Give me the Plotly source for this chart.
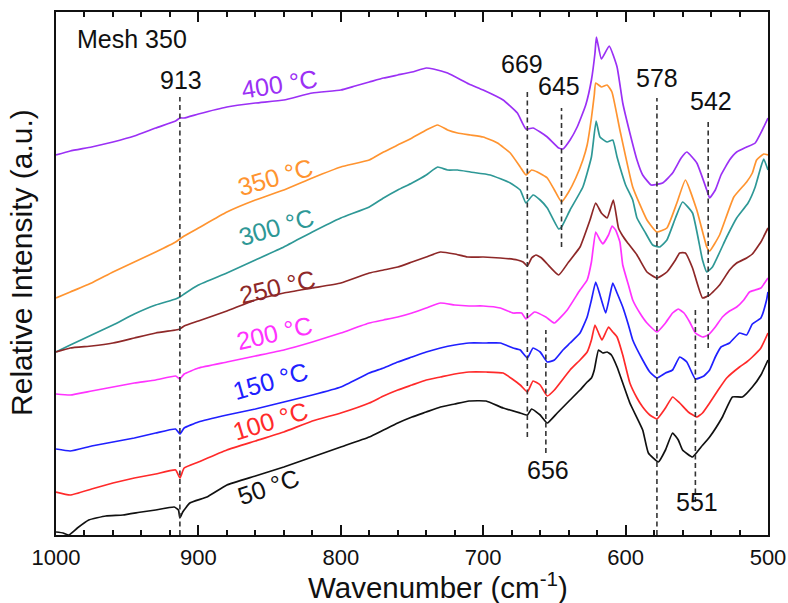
import plotly.graph_objects as go

# ---------------- data (wavenumber in cm-1, relative intensity in a.u.) ----------------
wn_400 = [1000, 990, 975, 960, 945, 930, 916, 913, 910, 900, 880, 860, 840, 820, 800, 790, 780, 770, 760, 750,
          740, 735, 725, 710, 700, 686, 676, 670, 665, 660, 655, 647, 644, 639, 634, 628, 624, 621.5, 620.5, 617,
          611.5, 606, 602, 597, 592, 588, 582, 574, 567, 561, 557, 550, 543, 541, 537, 533, 527, 522, 515, 509,
          504, 500]
int_400 = [380, 384, 388, 393, 399, 407, 414, 417, 417, 421, 428, 432, 435, 442, 445, 449, 453, 457, 460, 463,
           467, 466, 462, 451, 445, 435, 422, 406, 407, 403, 398, 387, 386, 395, 408, 430, 455, 482, 498, 476,
           489, 468, 432, 402, 375, 360, 350, 352, 362, 377, 383, 372, 345, 337, 345, 360, 375, 383, 388, 392,
           405, 417]

wn_350 = [1000, 990, 975, 960, 945, 930, 916, 913, 910, 900, 880, 860, 840, 820, 800, 780, 770, 760, 750, 740,
          732, 725, 718, 709, 700, 690, 681, 674, 670, 666, 662, 655, 650, 645, 640, 635, 630, 627, 624, 622,
          621, 617, 613, 609.6, 604, 595, 585, 578, 571, 564, 558, 550, 543, 541, 534, 524, 515, 511, 508, 503,
          500]
int_350 = [237, 243, 252, 263, 273, 283, 293, 296, 299, 307, 323, 335, 345, 357, 368, 375, 383, 390, 397, 405,
           410, 405, 402, 400, 398, 392, 382, 368, 360, 365, 363, 357, 345, 333, 343, 357, 375, 390, 417, 440,
           452, 448, 450, 443, 405, 348, 315, 303, 307, 332, 355, 325, 288, 284, 300, 338, 353, 362, 375, 381,
           380]

wn_300 = [1000, 990, 975, 960, 945, 930, 916, 913, 910, 900, 880, 860, 840, 820, 800, 780, 770, 760, 750, 740,
          732, 725, 718, 709, 695, 681, 674, 670, 665, 660, 655, 647, 645, 639, 630, 624, 620.7, 618, 613, 609,
          606, 604, 600, 595, 592, 586, 581, 576, 571, 565, 560, 553, 546, 543, 539, 529, 522, 514, 509, 505,
          503, 500]
int_300 = [183, 190, 200, 210, 221, 230, 236, 238, 241, 250, 262, 275, 288, 303, 317, 328, 337, 345, 352, 360,
           368, 365, 365, 363, 360, 352, 345, 332, 340, 335, 327, 306, 308, 325, 348, 378, 414, 398, 393, 395,
           378, 368, 350, 335, 317, 302, 290, 288, 295, 317, 333, 322, 275, 263, 268, 298, 317, 332, 348, 368,
           376, 365]

wn_250 = [1000, 990, 975, 960, 945, 930, 916, 913, 910, 900, 880, 860, 840, 820, 800, 780, 770, 760, 750, 740,
          730, 720, 711, 700, 688, 676, 672, 669, 666, 663, 659, 655, 647, 640, 632, 625, 621, 617, 613, 608.6,
          605, 602, 599, 592, 585, 578, 571, 565, 562, 558, 553, 546, 541, 534, 527, 522, 515, 511, 505, 500]
int_250 = [183, 187, 189, 192, 197, 202, 205, 206, 209, 214, 224, 235, 242, 247, 252, 262, 265, 268, 273, 278,
           283, 281, 278, 278, 277, 275, 273, 269, 277, 280, 277, 271, 260, 273, 288, 315, 332, 322, 317, 335,
           307, 299, 293, 280, 263, 257, 263, 275, 282, 282, 267, 237, 240, 250, 265, 272, 277, 281, 293, 307]

wn_200 = [1000, 990, 975, 960, 945, 930, 916, 913, 910, 900, 880, 860, 840, 820, 800, 780, 770, 760, 750, 740,
          730, 720, 710, 700, 688, 679, 673, 670, 664, 656, 650, 641, 632, 627, 624, 621, 618, 616, 612, 609.5,
          607, 604, 602, 598, 595, 590, 585, 578, 572, 567, 563, 559, 555, 551, 546, 542, 537, 532, 527, 522,
          517, 513, 509, 505, 500]
int_200 = [141, 140, 144, 148, 152, 155, 159, 156, 161, 167, 173, 179, 185, 193, 202, 212, 215, 218, 222, 227,
           232, 230, 229, 229, 227, 222, 222, 216, 223, 218, 212, 225, 245, 255, 273, 303, 295, 291, 300, 309,
           305, 293, 270, 250, 235, 222, 212, 203, 212, 222, 226, 222, 213, 202, 198, 200, 208, 218, 224, 228,
           235, 243, 245, 247, 257]

wn_150 = [1000, 990, 975, 960, 945, 930, 916, 913, 910, 900, 880, 860, 840, 820, 800, 780, 770, 760, 750, 740,
          730, 720, 710, 698, 688, 679, 674, 669, 665, 660, 655, 650, 644, 639, 632, 627, 624, 621, 618, 614,
          611, 609, 606, 602, 598, 595, 588, 583, 578, 572, 567, 562, 557, 551, 545, 541, 537, 533, 527, 520,
          515, 511, 505, 501, 500]
int_150 = [86, 84, 89, 93, 97, 102, 106, 101, 107, 113, 120, 126, 133, 140, 148, 162, 167, 173, 178, 183,
           187, 190, 192, 192, 192, 187, 185, 177, 187, 183, 173, 175, 185, 192, 202, 218, 235, 253, 240, 222,
           240, 252, 242, 228, 210, 195, 175, 163, 157, 162, 165, 178, 173, 156, 159, 165, 178, 188, 192, 202,
           200, 211, 217, 235, 243]

wn_100 = [1000, 990, 975, 960, 945, 930, 916, 913, 910, 900, 880, 860, 840, 820, 800, 780, 770, 760, 750, 740,
          730, 720, 710, 698, 686, 674, 669, 665, 660, 655, 650, 639, 632, 627, 624, 621.5, 619, 616.6, 612, 609,
          606, 602, 597, 592, 588, 583, 578, 572, 567, 562, 556, 550, 546, 541, 535, 529, 520, 515, 511, 505,
          500]
int_100 = [43, 40, 46, 52, 57, 61, 65, 57, 67, 73, 85, 94, 103, 114, 122, 132, 139, 145, 150, 155,
           158, 161, 163, 163, 162, 150, 143, 154, 150, 139, 145, 165, 175, 183, 195, 210, 202, 195, 208, 203,
           198, 180, 152, 137, 128, 120, 116, 127, 138, 132, 123, 118, 122, 132, 145, 157, 168, 173, 178, 187,
           202]

wn_50 = [1000, 995, 991, 985, 977, 965, 953, 940, 930, 917, 914, 913, 911, 906, 894, 880, 860, 840, 820, 800,
         780, 770, 760, 750, 740, 730, 720, 710, 698, 686, 674, 669, 666, 660, 655, 648, 639, 632, 627, 624,
         622, 619, 616, 613, 610, 606, 597, 588, 584, 577, 572, 567, 563, 560, 553, 547, 541, 532, 525, 518,
         511, 505, 500]
int_50 = [3, 2, 0, 7, 15, 19, 20, 23, 25, 28, 25, 17, 23, 32, 38, 50, 59, 68, 78, 88,
          98, 105, 112, 118, 123, 128, 131, 134, 134, 127, 122, 120, 126, 120, 112, 122, 135, 145, 153, 157,
          165, 185, 182, 183, 180, 168, 132, 105, 82, 73, 85, 102, 95, 85, 78, 88, 98, 118, 138, 138,
          148, 160, 175]

temps = ["400 °C", "350 °C", "300 °C", "250 °C", "200 °C", "150 °C", "100 °C", "50 °C"]
colors = ["#9B30F5", "#FF9430", "#2E9896", "#8E2828", "#FF33FF", "#2020FF", "#FF2A2A", "#111111"]
wns = [wn_400, wn_350, wn_300, wn_250, wn_200, wn_150, wn_100, wn_50]
ints = [int_400, int_350, int_300, int_250, int_200, int_150, int_100, int_50]

# temperature label placement (wavenumber, intensity, rotation)
temp_label_wn = [843.4, 846.2, 845.5, 844.8, 846.9, 849.7, 849.7, 851.1]
temp_label_int = [451, 358, 308, 248, 202, 154, 114, 48]
temp_label_angle = [-9, -16, -16, -13, -13, -16, -17, -19]

# band markers (dashed guide lines) and their labels
band_wn = [913, 669, 645, 578, 542, 656, 551]
band_top = [438, 445, 427, 437, 415, 205, 227]
band_bottom = [0, 98, 288, 0, 187, 82, 33]
band_label = ["913", "669", "645", "578", "542", "656", "551"]
band_label_wn = [912.2, 673.1, 646.8, 577.9, 540.0, 654.5, 549.9]
band_label_int = [455, 471, 449, 457, 434, 65, 33]

FONT = "Liberation Sans, Arial, Helvetica, sans-serif"

fig = go.Figure()
for name, w, i, c in zip(temps, wns, ints, colors):
    fig.add_trace(go.Scatter(x=w, y=i, mode="lines", name=name,
                             line=dict(color=c, width=1.7, shape="spline", smoothing=0.4),
                             showlegend=False, hoverinfo="skip"))

shapes = []
for w, t, b in zip(band_wn, band_top, band_bottom):
    shapes.append(dict(type="line", xref="x", yref="y", x0=w, x1=w, y0=b, y1=t,
                       line=dict(color="#333333", width=1.6, dash="5px,3.5px"), layer="above"))

annotations = []
for txt, x, y, a, c in zip(temps, temp_label_wn, temp_label_int, temp_label_angle, colors):
    annotations.append(dict(text=txt, x=x, y=y, xref="x", yref="y", showarrow=False, textangle=a,
                            xanchor="center", yanchor="middle", font=dict(family=FONT, size=25, color=c)))
for txt, x, y in zip(band_label, band_label_wn, band_label_int):
    annotations.append(dict(text=txt, x=x, y=y, xref="x", yref="y", showarrow=False,
                            xanchor="center", yanchor="middle", font=dict(family=FONT, size=25, color="#111111")))
annotations.append(dict(text="Mesh 350", x=986.7, y=496, xref="x", yref="y", showarrow=False,
                        xanchor="left", yanchor="middle", font=dict(family=FONT, size=25, color="#111111")))
# axis titles
annotations.append(dict(text="Wavenumber (cm<sup>-1</sup>)", x=0.536, y=-0.0975, xref="paper", yref="paper",
                        showarrow=False, xanchor="center", yanchor="middle",
                        font=dict(family=FONT, size=29.5, color="#111111")))
annotations.append(dict(text="Relative Intensity (a.u.)", x=-0.0478, y=0.522, xref="paper", yref="paper",
                        showarrow=False, xanchor="center", yanchor="middle", textangle=-90,
                        font=dict(family=FONT, size=30, color="#111111")))

fig.update_layout(
    width=788, height=603,
    margin=dict(l=56, r=20, t=12, b=68, autoexpand=False),
    paper_bgcolor="white", plot_bgcolor="white",
    shapes=shapes, annotations=annotations,
    showlegend=False,
    xaxis=dict(range=[1000, 500], tickvals=[1000, 900, 800, 700, 600, 500],
               ticks="inside", ticklen=10, tickwidth=1.5, tickcolor="#111111",
               minor=dict(dtick=20, ticks="inside", ticklen=5, tickwidth=1.5, tickcolor="#111111"),
               showline=True, linewidth=2, linecolor="#111111", mirror="ticks",
               showgrid=False, zeroline=False, automargin=False,
               tickfont=dict(family=FONT, size=22, color="#111111"), ticklabelstandoff=2),
    yaxis=dict(range=[0, 523], showticklabels=False, ticks="",
               showline=True, linewidth=2, linecolor="#111111", mirror=True,
               showgrid=False, zeroline=False, automargin=False),
)

fig.write_html("out.html")
